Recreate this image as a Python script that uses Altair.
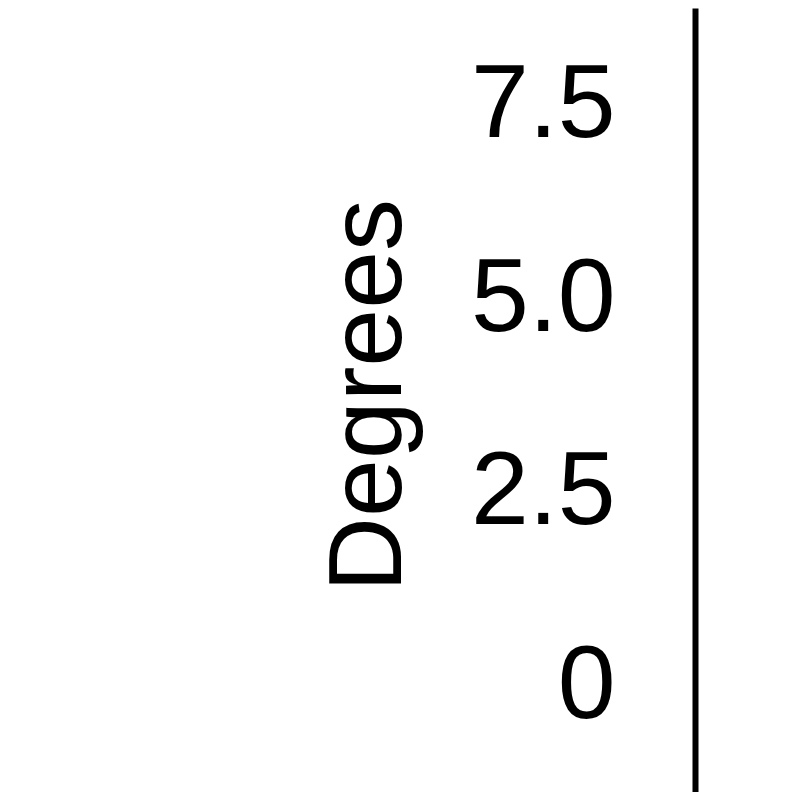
import altair as alt
import pandas as pd

# Data
tick_values = [0, 2.5, 5.0, 7.5]
y_domain = [-1.361, 8.755]
axis_title = "Degrees"

df = pd.DataFrame({"x": [0.5] * len(tick_values), "y": tick_values})

label_expr = "datum.value == 0 ? '0' : format(datum.value, '.1f')"

chart = (
    alt.Chart(df)
    .mark_point(opacity=0)
    .encode(
        x=alt.X("x:Q", axis=None, scale=alt.Scale(domain=[0, 1])),
        y=alt.Y(
            "y:Q",
            scale=alt.Scale(domain=y_domain, nice=False, zero=False),
            axis=alt.Axis(
                values=tick_values,
                labelExpr=label_expr,
                title=axis_title,
                grid=False,
                ticks=False,
                tickSize=0,
                labelPadding=80,
                labelFontSize=104,
                labelFont="Liberation Sans",
                labelColor="black",
                labelFlush=False,
                labelOverlap=False,
                labelBound=False,
                titleFontSize=104,
                titleFont="Liberation Sans",
                titleFontWeight="normal",
                titleColor="black",
                titleX=-295,
                titleY=387,
                titleAngle=270,
                titleBaseline="alphabetic",
                titleAlign="center",
                domainColor="black",
                domainWidth=6,
            ),
        ),
    )
    .properties(
        width=97,
        height=784,
        autosize="none",
        padding={"left": 687, "top": 0, "right": 0, "bottom": 0},
        background="white",
    )
    .configure_view(strokeWidth=0)
)

chart.save("out.html", embed_options={"renderer": "svg", "actions": False})
